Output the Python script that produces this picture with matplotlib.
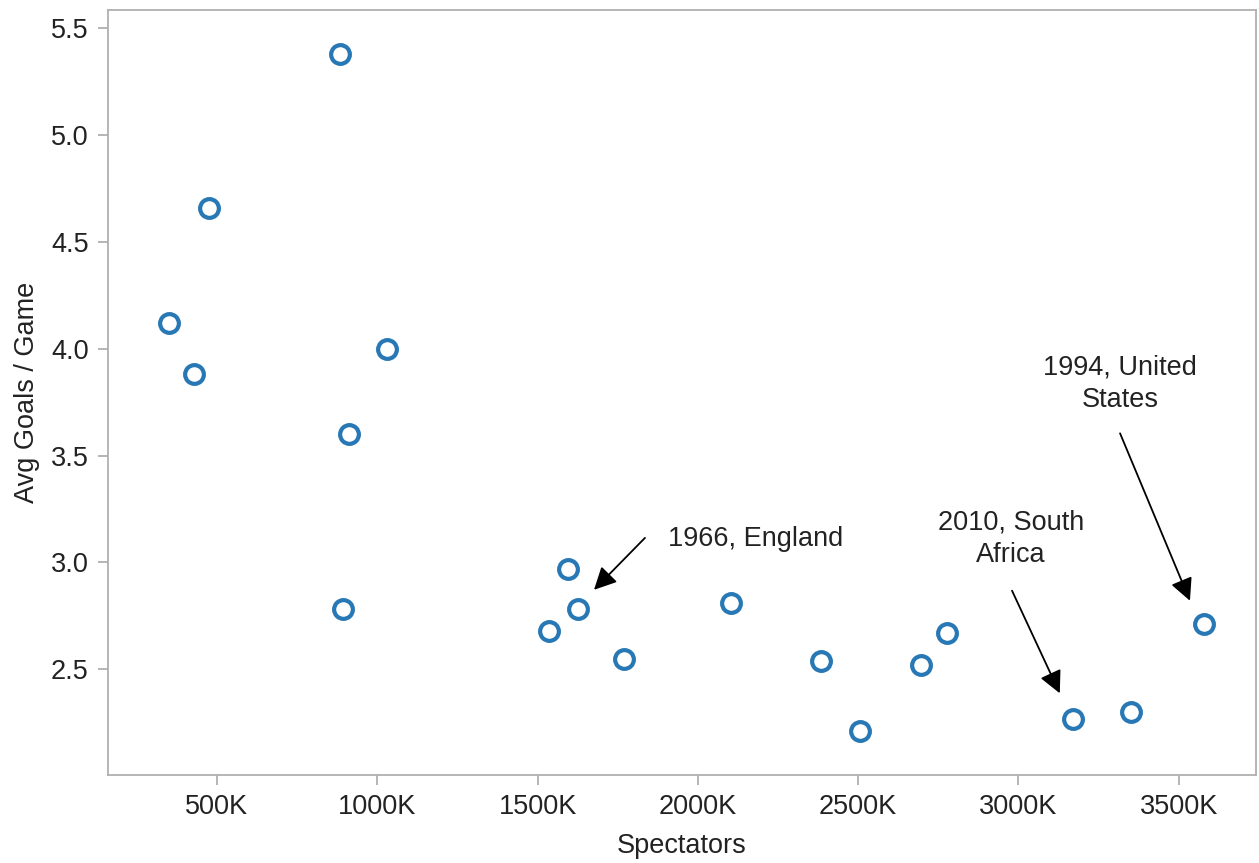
import matplotlib
matplotlib.use("Agg")
import matplotlib.pyplot as plt
from matplotlib.ticker import FuncFormatter

plt.rcParams['font.family'] = ['Liberation Sans', 'DejaVu Sans']

# World Cup tournaments: total spectators vs. average goals per game
years = [1930, 1934, 1938, 1950, 1954, 1958, 1962, 1966, 1970, 1974,
         1978, 1982, 1986, 1990, 1994, 1998, 2002, 2006, 2010]
spectators = [428000, 350000, 475000, 1030000, 884000, 912000, 893000,
              1626000, 1595000, 1770000, 1536000, 2103000, 2384000,
              2506000, 3579000, 2777000, 2696000, 3351000, 3170000]
avg_goals = [3.88, 4.12, 4.66, 4.00, 5.38, 3.60, 2.78, 2.78, 2.97, 2.55,
             2.68, 2.81, 2.54, 2.21, 2.71, 2.67, 2.52, 2.30, 2.27]

x_ticks = [500000, 1000000, 1500000, 2000000, 2500000, 3000000, 3500000]
y_ticks = [2.5, 3.0, 3.5, 4.0, 4.5, 5.0, 5.5]

text_color = '#222222'
axis_color = '#b0b0b0'
point_color = '#2878b5'
font_size = 19.5

fig = plt.figure(figsize=(12.59, 8.63), dpi=100)
ax = fig.add_axes([0.0858, 0.102, 0.9118, 0.8864])

ax.plot(spectators, avg_goals, linestyle='none', marker='o',
        markersize=13.5, markeredgewidth=3.0, markerfacecolor='white',
        markeredgecolor=point_color)

ax.set_xlim(160000, 3741000)
ax.set_ylim(2.006, 5.584)
ax.set_xticks(x_ticks)
ax.set_yticks(y_ticks)
ax.xaxis.set_major_formatter(FuncFormatter(lambda v, p: f"{int(round(v / 1000))}K"))
ax.yaxis.set_major_formatter(FuncFormatter(lambda v, p: f"{v:.1f}"))

for side in ['top', 'right', 'left', 'bottom']:
    ax.spines[side].set_color(axis_color)
    ax.spines[side].set_linewidth(1.3)
ax.tick_params(axis='both', colors=axis_color, length=7, width=1.3,
               labelcolor=text_color, labelsize=font_size)
ax.tick_params(axis='x', pad=7)
ax.tick_params(axis='y', pad=7)

ax.set_xlabel('Spectators', fontsize=font_size, color=text_color, labelpad=9)
ax.set_ylabel('Avg Goals / Game', fontsize=font_size, color=text_color, labelpad=8)

label_kw = dict(fontsize=font_size, color=text_color, linespacing=1.3)
arrow_kw = dict(arrowstyle='-|>', color='black', lw=1.3,
                mutation_scale=34, shrinkA=0, shrinkB=0)

# 1966, England
ax.text(1906000, 3.11, '1966, England', ha='left', va='center', **label_kw)
ax.annotate('', xy=(1676000, 2.872), xytext=(1835000, 3.115),
            arrowprops=arrow_kw)

# 2010, South Africa
ax.text(2977000, 3.112, '2010, South\nAfrica', ha='center', va='center', **label_kw)
ax.annotate('', xy=(3129000, 2.388), xytext=(2980000, 2.868),
            arrowprops=arrow_kw)

# 1994, United States
ax.text(3317000, 3.835, '1994, United\nStates', ha='center', va='center', **label_kw)
ax.annotate('', xy=(3535000, 2.821), xytext=(3317000, 3.604),
            arrowprops=arrow_kw)

fig.savefig('out.png', dpi=100, facecolor='white')
